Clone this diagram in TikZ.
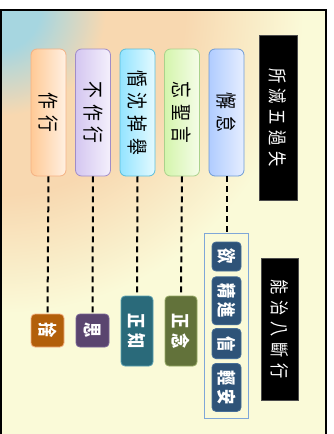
\documentclass[tikz,border=0pt]{standalone}
\usepackage{fontspec}
\usepackage{graphicx}
\newfontfamily\pillfont[FakeStretch=0.8,LetterSpace=28]{Noto Sans CJK TC}
\newfontfamily\headfont[FakeStretch=0.8,LetterSpace=30]{Noto Sans CJK TC}
\newfontfamily\curefont[FakeStretch=0.8,LetterSpace=22]{Noto Sans CJK TC}
\usetikzlibrary{positioning}

\definecolor{bgcream}{RGB}{250,250,216}
\definecolor{glowblue}{RGB}{166,214,224}
\definecolor{glowpeach}{RGB}{248,216,176}
\definecolor{groupline}{RGB}{127,167,216}
\definecolor{actline}{RGB}{244,177,131}
\definecolor{actleft}{RGB}{255,202,150}
\definecolor{actright}{RGB}{255,240,226}
\definecolor{noactline}{RGB}{160,140,200}
\definecolor{noactleft}{RGB}{212,198,240}
\definecolor{noactright}{RGB}{244,240,252}
\definecolor{dullline}{RGB}{90,190,220}
\definecolor{dullleft}{RGB}{148,228,255}
\definecolor{dullright}{RGB}{228,250,255}
\definecolor{forgetline}{RGB}{170,210,140}
\definecolor{forgetleft}{RGB}{212,245,172}
\definecolor{forgetright}{RGB}{245,252,232}
\definecolor{laxline}{RGB}{110,155,215}
\definecolor{laxleft}{RGB}{176,204,255}
\definecolor{laxright}{RGB}{230,238,255}
\definecolor{evenfill}{RGB}{178,95,10}
\definecolor{evenline}{RGB}{244,177,131}
\definecolor{intentfill}{RGB}{90,69,111}
\definecolor{intentline}{RGB}{120,100,150}
\definecolor{alertfill}{RGB}{42,106,122}
\definecolor{alertline}{RGB}{90,160,176}
\definecolor{mindfill}{RGB}{98,114,58}
\definecolor{mindline}{RGB}{150,170,100}
\definecolor{curefill}{RGB}{46,83,120}
\definecolor{cureline}{RGB}{70,110,150}

\pgfdeclareradialshading{cornerglow}{\pgfpoint{0bp}{0bp}}{color(0bp)=(glowblue); color(3bp)=(glowblue); color(8bp)=(glowpeach); color(14bp)=(glowpeach); color(23bp)=(bgcream); color(50bp)=(bgcream)}

\newcommand{\vtext}[1]{\rotatebox{-90}{#1}}

\tikzset{
  fault/.style={draw=#1line, left color=#1left, right color=#1right,
    rounded corners=6pt, line width=0.8pt, minimum width=35pt, minimum height=127pt, inner sep=0pt,
    font=\pillfont\fontsize{21}{25}\selectfont},
  cure/.style={fill=#1fill, draw=#1line, line width=0.8pt, rounded corners=4pt,
    text=white, inner sep=0pt, font=\curefont\bfseries\fontsize{19}{23}\selectfont},
  heading/.style={fill=black, draw=black!70, text=white, inner sep=0pt,
    font=\headfont\fontsize{19}{23}\selectfont},
  link/.style={draw=black, line width=2pt, dash pattern=on 6pt off 4pt},
}

\begin{document}
\begin{tikzpicture}[x=1pt, y=-1pt]
  \useasboundingbox (0,0) rectangle (333,434);
  \fill[white] (0,0) rectangle (333,434);
  \fill[bgcream] (0,10) rectangle (326,434);
  \begin{scope}
    \clip (0,10) rectangle (326,434);
    \shade[shading=cornerglow] (0,10) circle (330);
  \end{scope}
  \draw[line width=2pt] (0.5,10) rectangle (326,445);

  \node[heading, minimum width=38pt, minimum height=165pt] (faults) at (278,117.5) {\vtext{所滅五過失}};
  \node[heading, minimum width=37pt, minimum height=142pt] (remedies) at (279.5,329) {\vtext{能治八斷行}};

  \node[fault=act] (act) at (48.5,112.5) {\vtext{作行}};
  \node[fault=noact] (noact) at (93,112.5) {\vtext{不作行}};
  \node[fault=dull] (dull) at (137.5,112.5) {\vtext{惛沈掉舉}};
  \node[fault=forget] (forget) at (182,112.5) {\vtext{忘聖言}};
  \node[fault=lax] (lax) at (226.5,112.5) {\vtext{懈怠}};

  \node[cure=even, minimum width=33pt, minimum height=33pt] (even) at (47.5,330.5) {\vtext{捨}};
  \node[cure=intent, minimum width=33pt, minimum height=33pt] (intent) at (92.5,330.5) {\vtext{思}};
  \node[cure=alert, minimum width=32pt, minimum height=70pt] (alert) at (137,331) {\vtext{正知}};
  \node[cure=mind, minimum width=32pt, minimum height=70pt] (mind) at (181,331) {\vtext{正念}};

  \node[draw=groupline, fill=bgcream, line width=1pt, minimum width=44pt, minimum height=185pt, inner sep=0pt] (cures) at (226.5,325.5) {};
  \node[cure=cure, minimum width=29pt, minimum height=29pt] (aspire) at (226.5,256.5) {\vtext{欲}};
  \node[cure=cure, minimum width=29pt, minimum height=48pt, below=5pt of aspire] (effort) {\vtext{精進}};
  \node[cure=cure, minimum width=29pt, minimum height=30pt, below=3pt of effort] (faith) {\vtext{信}};
  \node[cure=cure, minimum width=29pt, minimum height=48pt, below=4pt of faith] (pliant) {\vtext{輕安}};

  \draw[link] (act.south) -- (even.north);
  \draw[link] (noact.south) -- (intent.north);
  \draw[link] (dull.south) -- (alert.north);
  \draw[link] (forget.south) -- (mind.north);
  \draw[link] (lax.south) -- (cures.north);
\end{tikzpicture}
\end{document}
